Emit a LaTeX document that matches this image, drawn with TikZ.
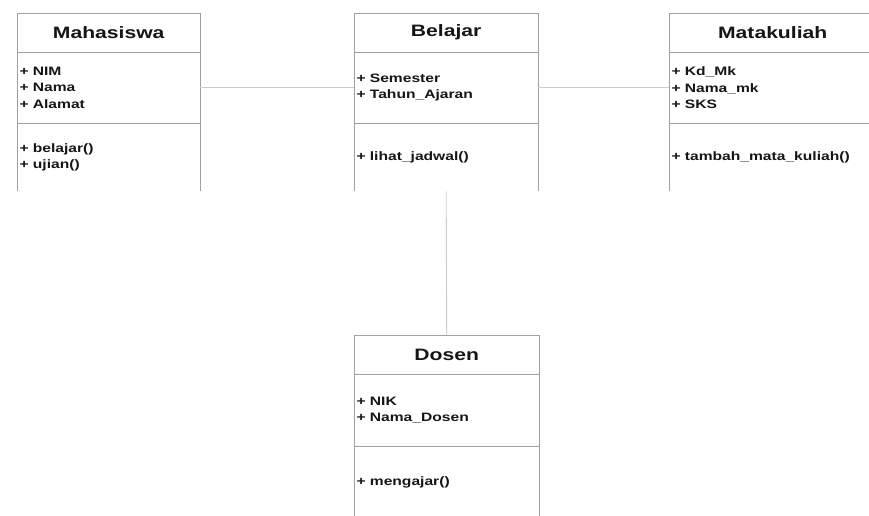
\documentclass[tikz,border=0pt]{standalone}
\usepackage{fontspec}
\setmainfont[FakeStretch=1.28]{Liberation Sans}
\definecolor{linegray}{HTML}{A0A0A0}
\definecolor{conngray}{HTML}{CCCCCC}
\definecolor{txt}{HTML}{151515}
\tikzset{
  boxline/.style={draw=linegray, line width=0.9pt},
  conn/.style={draw=conngray, line width=0.9pt},
  chead/.style={rectangle, inner sep=0pt, minimum height=39pt, anchor=north west, text=txt,
    font=\fontsize{16.5}{19}\selectfont\bfseries},
  ccomp/.style={rectangle, inner xsep=2.5pt, inner ysep=0pt, align=left, anchor=north west, text=txt,
    font=\fontsize{12.2}{16.5}\selectfont\bfseries},
}
\begin{document}
\begin{tikzpicture}[x=1pt,y=-1pt]
\useasboundingbox (0,0) rectangle (869,516);
\clip (0,0) rectangle (869,516);
% Mahasiswa
\node[chead, minimum width=183pt] (mh) at (17,13) {Mahasiswa};
\node[ccomp, minimum height=71pt, text width=178pt] (ma) at (17,52) {+ NIM\\+ Nama\\+ Alamat};
\node[ccomp, minimum height=68pt, text width=178pt] (mo) at (17,123) {+ belajar()\\+ ujian()};
% Belajar
\node[chead, minimum width=184pt] (bh) at (354,13) {Belajar};
\node[ccomp, minimum height=71pt, text width=179pt] (ba) at (354,52) {+ Semester\\+ Tahun\_Ajaran};
\node[ccomp, minimum height=68pt, text width=179pt] (bo) at (354,123) {+ lihat\_jadwal()};
% Matakuliah
\node[chead, minimum width=207pt] (kh) at (669,13) {Matakuliah};
\node[ccomp, minimum height=71pt, text width=202pt] (ka) at (669,52) {+ Kd\_Mk\\+ Nama\_mk\\+ SKS};
\node[ccomp, minimum height=68pt, text width=202pt] (ko) at (669,123) {+ tambah\_mata\_kuliah()};
% Dosen
\node[chead, minimum width=185pt] (dh) at (354,335) {Dosen};
\node[ccomp, minimum height=72pt, text width=180pt] (da) at (354,374) {+ NIK\\+ Nama\_Dosen};
\node[ccomp, minimum height=72pt, text width=180pt] (do) at (354,446) {+ mengajar()};
% frames (open at the bottom)
\foreach \h/\a/\o in {mh/ma/mo, bh/ba/bo, kh/ka/ko, dh/da/do}{
  \draw[boxline] (\o.south west) -- (\h.north west) -- (\h.north east) -- (\o.south east);
  \draw[boxline] (\h.south west) -- (\h.south east);
  \draw[boxline] (\a.south west) -- (\a.south east);
}
% connectors
\draw[conn] (ma.east) -- (ba.west);
\draw[conn] (ba.east) -- (ka.west);
\draw[conn] (bo.south) -- (dh.north);
\end{tikzpicture}
\end{document}
